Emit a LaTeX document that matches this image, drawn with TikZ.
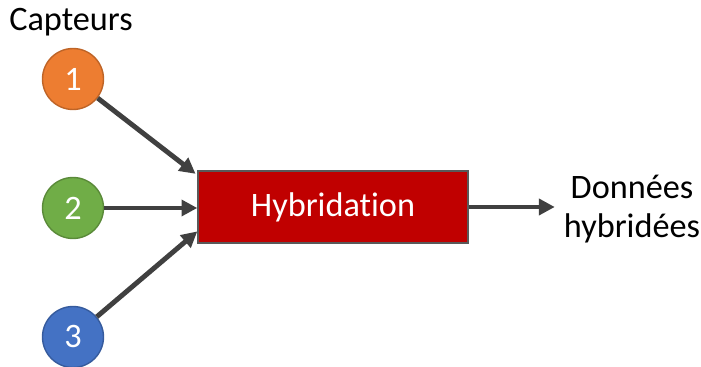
\documentclass[tikz,border=0pt]{standalone}
\usepackage{fontspec}
\setmainfont{Carlito}[Ligatures=NoCommon]
\definecolor{capOrange}{HTML}{ED7D31}
\definecolor{capGreen}{HTML}{70AD47}
\definecolor{capBlue}{HTML}{4472C4}
\definecolor{hybRed}{HTML}{C00000}
\definecolor{arrowGray}{HTML}{404040}
\usetikzlibrary{arrows.meta}
\begin{document}
\begin{tikzpicture}[
      x=0.02cm, y=-0.02cm,
      capteur/.style={
        circle, draw, line width=0.8pt, minimum size=1.22cm, inner sep=0pt,
        text=white, font=\fontsize{19.5}{23}\selectfont
      },
      hybbox/.style={
        rectangle, draw=gray!70!black, line width=0.8pt, fill=hybRed,
        minimum width=5.4cm, minimum height=1.44cm,
        text=white, font=\fontsize{19.5}{23}\selectfont
      },
      lbl/.style={font=\fontsize{19.5}{23}\selectfont, align=center},
      flux/.style={-{Triangle[length=9pt, width=9pt]}, line width=2.8pt, arrowGray}
    ]
    \useasboundingbox (0,0) rectangle (701,367);

    % Sensors on the left, hybridation block in the middle.
    \node[lbl]                            (titre) at (71, 22)  {Capteurs};
    \node[capteur, fill=capOrange, draw=capOrange!80!black] (c1) at (73, 79)  {1};
    \node[capteur, fill=capGreen,  draw=capGreen!80!black]  (c2) at (73, 208) {2};
    \node[capteur, fill=capBlue,   draw=capBlue!80!black]   (c3) at (73, 337) {3};

    \node[hybbox] (hyb) at (333, 207) {Hybridation};

    \node[lbl, inner sep=0pt] (sortie) at (632, 209) {Donn\'ees\\[-1pt]hybrid\'ees};

    % Data flows.
    \draw[flux] (c1) -- ([xshift=-1pt, yshift=-2pt]hyb.north west);
    \draw[flux] (c2) -- (hyb.west |- c2);
    \draw[flux] (c3) -- ([yshift=7pt]hyb.south west);
    \draw[flux] (hyb.east) -- ([xshift=-5pt]sortie.west |- hyb.east);
  \end{tikzpicture}
\end{document}
